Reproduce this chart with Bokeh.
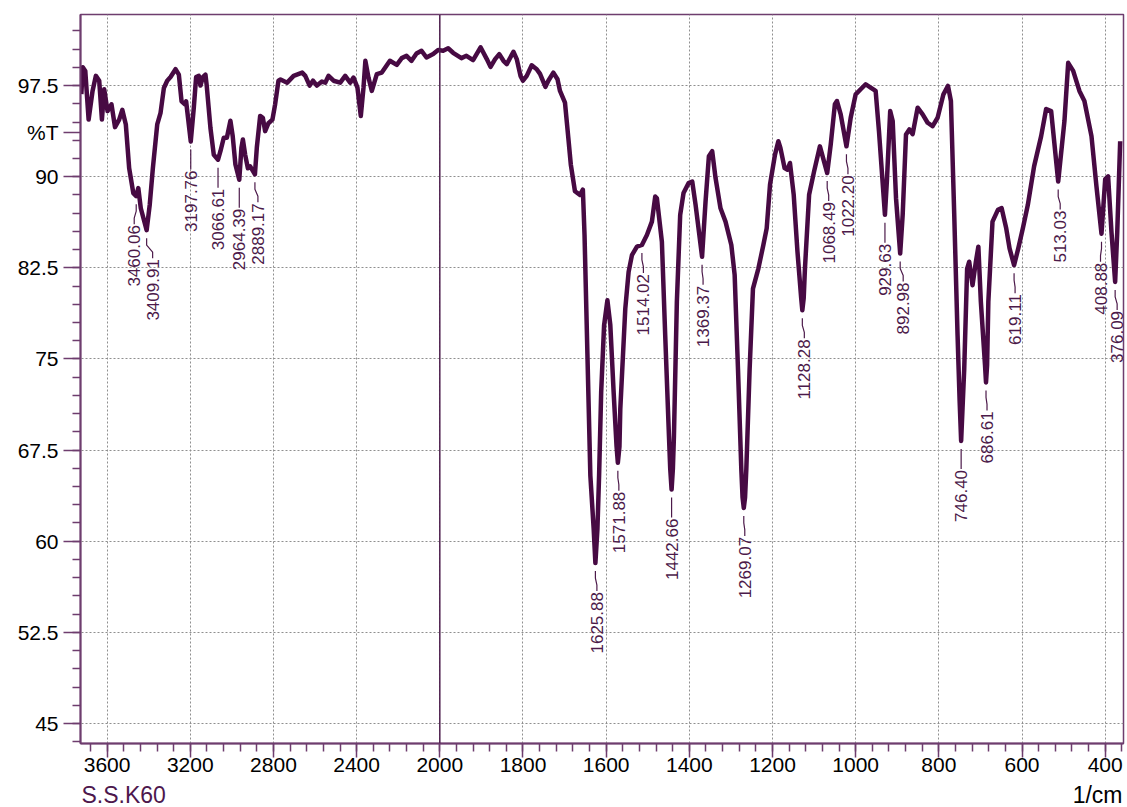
import numpy as np
from bokeh.plotting import figure
from bokeh.layouts import column
from bokeh.models import Range1d, FixedTicker, Span
from bokeh.core.properties import value
from bokeh.embed import file_html
from bokeh.resources import INLINE

# ---- spectrum (wavenumber in 1/cm, transmittance in %T) ----
wavenumber = [
    3724, 3717, 3705, 3689, 3670, 3654, 3638, 3625, 3614, 3598, 3579, 3562, 3542,
    3527, 3510, 3494, 3474, 3460.06, 3450, 3438, 3409.91, 3395, 3380, 3359, 3343,
    3327, 3311, 3295, 3271, 3255, 3242, 3226, 3220, 3197.76, 3183, 3172, 3159,
    3151, 3140, 3127, 3121, 3103, 3087, 3066.61, 3055, 3039, 3024, 3007, 2996,
    2983, 2964.39, 2954, 2947, 2936, 2923, 2912, 2889.17, 2880, 2864, 2851, 2840,
    2824, 2805, 2792, 2776, 2766, 2734, 2703, 2662, 2647, 2626, 2610, 2591, 2567,
    2551, 2535, 2511, 2479, 2455, 2431, 2415, 2396, 2380, 2367, 2358, 2343, 2327,
    2303, 2279, 2240, 2207, 2183, 2160, 2136, 2112, 2088, 2064, 2032, 2008, 1992,
    1980, 1968, 1948, 1936, 1920, 1902, 1887, 1878, 1867, 1857, 1847, 1839, 1823,
    1815, 1806, 1800, 1791, 1779, 1767, 1759, 1746, 1739, 1727, 1717, 1711, 1699,
    1691, 1685, 1675, 1663, 1656, 1652, 1638, 1630, 1625.88, 1621, 1617, 1612,
    1605, 1597, 1590, 1582, 1575, 1571.88, 1568, 1566, 1554, 1546, 1538, 1526,
    1514.02, 1502, 1490, 1482, 1478, 1466, 1458, 1449, 1446, 1442.66, 1439.5,
    1437, 1430, 1422, 1414, 1402, 1393, 1385, 1369.37, 1361, 1353, 1345, 1337,
    1325, 1313, 1299, 1291, 1283, 1275, 1272, 1269.07, 1266, 1263, 1255, 1247,
    1234, 1222, 1214, 1206, 1194, 1186, 1181, 1171, 1164, 1158, 1149, 1140,
    1131, 1128.28, 1125, 1122, 1112, 1100, 1086, 1068.49, 1060, 1050, 1045, 1036,
    1022.2, 1012, 1000, 988, 976, 964, 952, 944, 929.63, 925, 917, 911, 903,
    892.98, 887, 879, 871, 863, 851, 839, 827, 815, 803, 789, 778, 771, 763, 755,
    750, 746.4, 743, 739, 732, 727, 719, 711, 705, 699, 689, 686.61, 684, 681,
    671, 658, 649, 638, 630, 619.11, 609, 598, 586, 571, 554, 542, 530, 513.03,
    498, 489, 477, 462, 450, 433, 421, 408.88, 400, 393, 385, 376.09, 371, 364,
]
transmittance = [
    96.8, 99.0, 98.7, 94.7, 97.06, 98.3, 97.9, 94.7, 97.2, 95.4, 95.96, 94.08, 94.7,
    95.5, 94.3, 90.7, 88.65, 88.4, 89.06, 87.4, 85.6, 87.7, 90.7, 94.3, 95.26,
    97.3, 97.9, 98.2, 98.85, 98.4, 96.2, 95.96, 96.2, 92.9, 95.7, 98.2, 98.3,
    97.5, 98.2, 98.4, 97.5, 94.0, 91.8, 91.4, 92.1, 93.2, 93.2, 94.6, 93.34,
    91.0, 89.75, 92.4, 93.06, 91.8, 90.7, 90.85, 90.2, 92.4, 95.0, 94.85, 93.75,
    94.4, 94.7, 95.96, 97.9, 98.0, 97.74, 98.3, 98.57, 98.3, 97.5, 97.9, 97.5, 97.83,
    97.74, 98.3, 97.9, 97.74, 98.3, 97.74, 98.16, 97.33, 94.99, 97.33, 99.54, 98.16, 97.06,
    98.44, 98.57, 99.54, 99.2, 99.76, 99.95, 99.54, 100.14, 100.37, 99.81, 100.09, 100.42, 100.37,
    100.57, 100.2, 99.76, 99.95, 99.6, 100.65, 99.68, 99.04, 99.68, 100.09, 99.54, 99.27, 100.28,
    99.68, 98.3, 97.9, 98.3, 99.17, 98.85, 98.46, 97.39, 97.9, 98.57, 98.02, 97.06, 96.09,
    93.2, 91.0, 88.8, 88.5, 88.93, 85.2, 65.4, 61.0, 58.2, 61.0, 65.4, 72.25,
    77.76, 79.83, 77.79, 72.25, 67.8, 66.46, 67.8, 70.87, 79.14, 82.17, 83.55, 84.24,
    84.38, 85.2, 86.3, 88.37, 88.23, 84.65, 76.94, 68.67, 66.0, 64.25, 66.0,
    68.67, 79.7, 86.86, 88.65, 89.47, 89.6, 87.69, 83.41, 87.96, 91.68, 92.1, 89.9,
    87.4, 86.3, 84.38, 81.9, 74.17, 65.9, 63.6, 62.74, 63.6, 65.9, 74.17, 80.79,
    82.44, 84.38, 85.75, 89.34, 91.82, 92.92, 92.37, 90.71, 90.58, 91.13, 88.51, 83.83,
    80.0, 79.0, 80.0, 82.44, 88.51, 90.44, 92.5, 90.3, 92.65, 95.96, 96.23, 95.13,
    92.5, 94.85, 96.78, 97.2, 97.61, 97.33, 97.06, 93.75, 86.86, 89.61, 95.4, 94.58, 88.23,
    83.68, 86.86, 93.48, 93.89, 93.5, 95.68, 95.13, 94.44, 94.16, 94.85, 96.78, 97.47, 96.23, 86.86, 76.94,
    71.5, 68.25, 71.0, 74.17, 82.44, 83.0, 81.07, 83.0, 84.24, 79.69, 74.5, 73.07, 74.5, 79.69,
    86.3, 87.27, 87.41, 85.75, 84.1, 82.72, 84.1, 85.75, 87.69, 90.85, 93.34, 95.57, 95.4, 89.6,
    94.58, 99.37, 98.71, 97.06, 96.23, 93.34, 89.2, 85.31, 89.8, 90.03, 85.48, 81.34, 85.48, 92.92,
]

# ---- annotated band positions ----
peak_wavenumbers = [
    3460.06, 3409.91, 3197.76, 3066.61, 2964.39, 2889.17, 1625.88, 1571.88,
    1514.02, 1442.66, 1369.37, 1269.07, 1128.28, 1068.49, 1022.20, 929.63,
    892.98, 746.40, 686.61, 619.11, 513.03, 408.88, 376.09,
]
# sideways shift of each annotation text (screen px) to keep neighbours apart
label_shift_px = [-2, 6, 0, 0, 0, 3, 1.5, 1, 1.5, 0, 1, 1, 2, 1.5, 1.5, 0,
                  3, 0, 1, 1, 2, -1, 2]

# ---- axis ticks and captions ----
x_major_ticks = [3600, 3200, 2800, 2400, 2000, 1800, 1600, 1400, 1200, 1000,
                 800, 600, 400]
y_major_ticks = [45, 52.5, 60, 67.5, 75, 82.5, 90, 97.5]
y_tick_labels = ["45", "52.5", "60", "67.5", "75", "82.5", "90", "97.5"]
y_unit_label = "%T"
x_unit_label = "1/cm"
sample_name = "S.S.K60"


def to_u(w):
    """Plot coordinate: the region above 2000 1/cm is drawn at half scale."""
    w = np.asarray(w, dtype=float)
    return np.where(w > 2000, 2000 + (w - 2000) / 2.0, w)


W = 1127
B_LEFT, B_RIGHT, B_TOP, B_BOTTOM = 80, 4, 14, 38
FRAME_H = 729
H_MAIN = B_TOP + FRAME_H + B_BOTTOM
H_CAPTION = 807 - H_MAIN
FRAME_W = W - B_LEFT - B_RIGHT
U_START, U_END = 2864.0, 356.0
Y_START, Y_END = 43.35, 103.35
PX_PER_U = FRAME_W / (U_START - U_END)
PX_PER_T = FRAME_H / (Y_END - Y_START)

LINE_COLOR = "#470a43"
AXIS_COLOR = "#6e3d6e"
ANNOT_COLOR = "#4c1a4a"
FONT = "Liberation Sans"

p = figure(width=W, height=H_MAIN, output_backend="svg", toolbar_location=None,
           x_range=Range1d(U_START, U_END), y_range=Range1d(Y_START, Y_END),
           min_border_left=B_LEFT, min_border_right=B_RIGHT,
           min_border_top=B_TOP, min_border_bottom=B_BOTTOM)
p.background_fill_color = "white"
p.border_fill_color = "white"
p.outline_line_color = AXIS_COLOR
p.outline_line_width = 1.5

# x axis: two linear pieces joined at 2000 1/cm
x_major_u = [int(v) for v in to_u(x_major_ticks)]
p.xaxis.ticker = FixedTicker(ticks=x_major_u,
                             minor_ticks=list(range(360, 2864, 40)))
p.xaxis.major_label_overrides = {u: str(t) for u, t in zip(x_major_u, x_major_ticks)}

# y axis: the unit caption sits in the tick-label column near the top
unit_pos = round(Y_END - 118.5 / PX_PER_T, 2)
p.yaxis.ticker = FixedTicker(ticks=y_major_ticks + [unit_pos],
                             minor_ticks=[43.5 + 1.5 * i for i in range(41)])
y_overrides = dict(zip(y_major_ticks, y_tick_labels))
y_overrides[unit_pos] = y_unit_label
p.yaxis.major_label_overrides = y_overrides
p.ygrid.ticker = FixedTicker(ticks=y_major_ticks)

for ax in (p.xaxis[0], p.yaxis[0]):
    ax.axis_line_color = AXIS_COLOR
    ax.axis_line_width = 2
    ax.major_tick_line_color = AXIS_COLOR
    ax.major_tick_line_width = 1.5
    ax.minor_tick_line_color = AXIS_COLOR
    ax.minor_tick_line_width = 1.5
    ax.major_tick_in = 0
    ax.minor_tick_in = 0
    ax.major_label_text_font = FONT
    ax.major_label_text_font_size = "21px"
    ax.major_label_text_color = "black"
p.xaxis.major_tick_out = 14
p.xaxis.minor_tick_out = 8
p.xaxis.major_label_standoff = 0
p.yaxis.major_tick_out = 17
p.yaxis.minor_tick_out = 8
p.yaxis.major_label_standoff = 5

p.grid.grid_line_color = "#8f8f8f"
p.grid.grid_line_dash = "2 2"
p.grid.grid_line_width = 1

# scale break at 2000 1/cm
p.add_layout(Span(location=2000, dimension="height", line_color="#4e1f4e",
                  line_width=1.5))

# spectrum
p.line(to_u(wavenumber), transmittance, line_color=LINE_COLOR, line_width=4.5,
       line_join="round")

# band annotations
wn_asc = np.array(wavenumber)[::-1]
tr_asc = np.array(transmittance)[::-1]
peak_u = to_u(peak_wavenumbers)
peak_t = np.interp(peak_wavenumbers, wn_asc, tr_asc)
label_u = peak_u - np.array(label_shift_px) / PX_PER_U

lead_xs, lead_ys = [], []
for pu, lu, pt in zip(peak_u, label_u, peak_t):
    lead_xs.append([lu, lu, pu, pu])
    lead_ys.append([pt - 28 / PX_PER_T, pt - 22 / PX_PER_T,
                    pt - 15 / PX_PER_T, pt - 8 / PX_PER_T])
p.multi_line(lead_xs, lead_ys, line_color=ANNOT_COLOR, line_width=1.2)

p.text(x=label_u, y=peak_t - 29 / PX_PER_T,
       text=[f"{w:.2f}" for w in peak_wavenumbers],
       angle=np.pi / 2, text_align="right", text_baseline="middle",
       text_font=value(FONT), text_font_size="17px", text_color=ANNOT_COLOR)

# caption strip under the axis (same side borders, so its frame lines up
# with the spectrum frame): sample name at left, unit at right
cap = figure(width=W, height=H_CAPTION, output_backend="svg",
             toolbar_location=None, x_range=Range1d(0, FRAME_W),
             y_range=Range1d(0, 1), x_axis_type=None, y_axis_type=None,
             min_border_left=B_LEFT, min_border_right=B_RIGHT,
             min_border_top=0, min_border_bottom=0)
cap.outline_line_color = None
cap.grid.visible = False
cap.background_fill_color = "white"
cap.border_fill_color = "white"
cap.text(x=[1], y=[0.5], text=[sample_name], text_align="left",
         text_baseline="middle", text_font=value(FONT), text_font_size="23px",
         text_color="#4d174d")
cap.text(x=[FRAME_W - 1], y=[0.5], text=[x_unit_label], text_align="right",
         text_baseline="middle", text_font=value(FONT), text_font_size="23px",
         text_color="black")

layout = column(p, cap, spacing=0)
open("out.html", "w").write(file_html(layout, INLINE))
